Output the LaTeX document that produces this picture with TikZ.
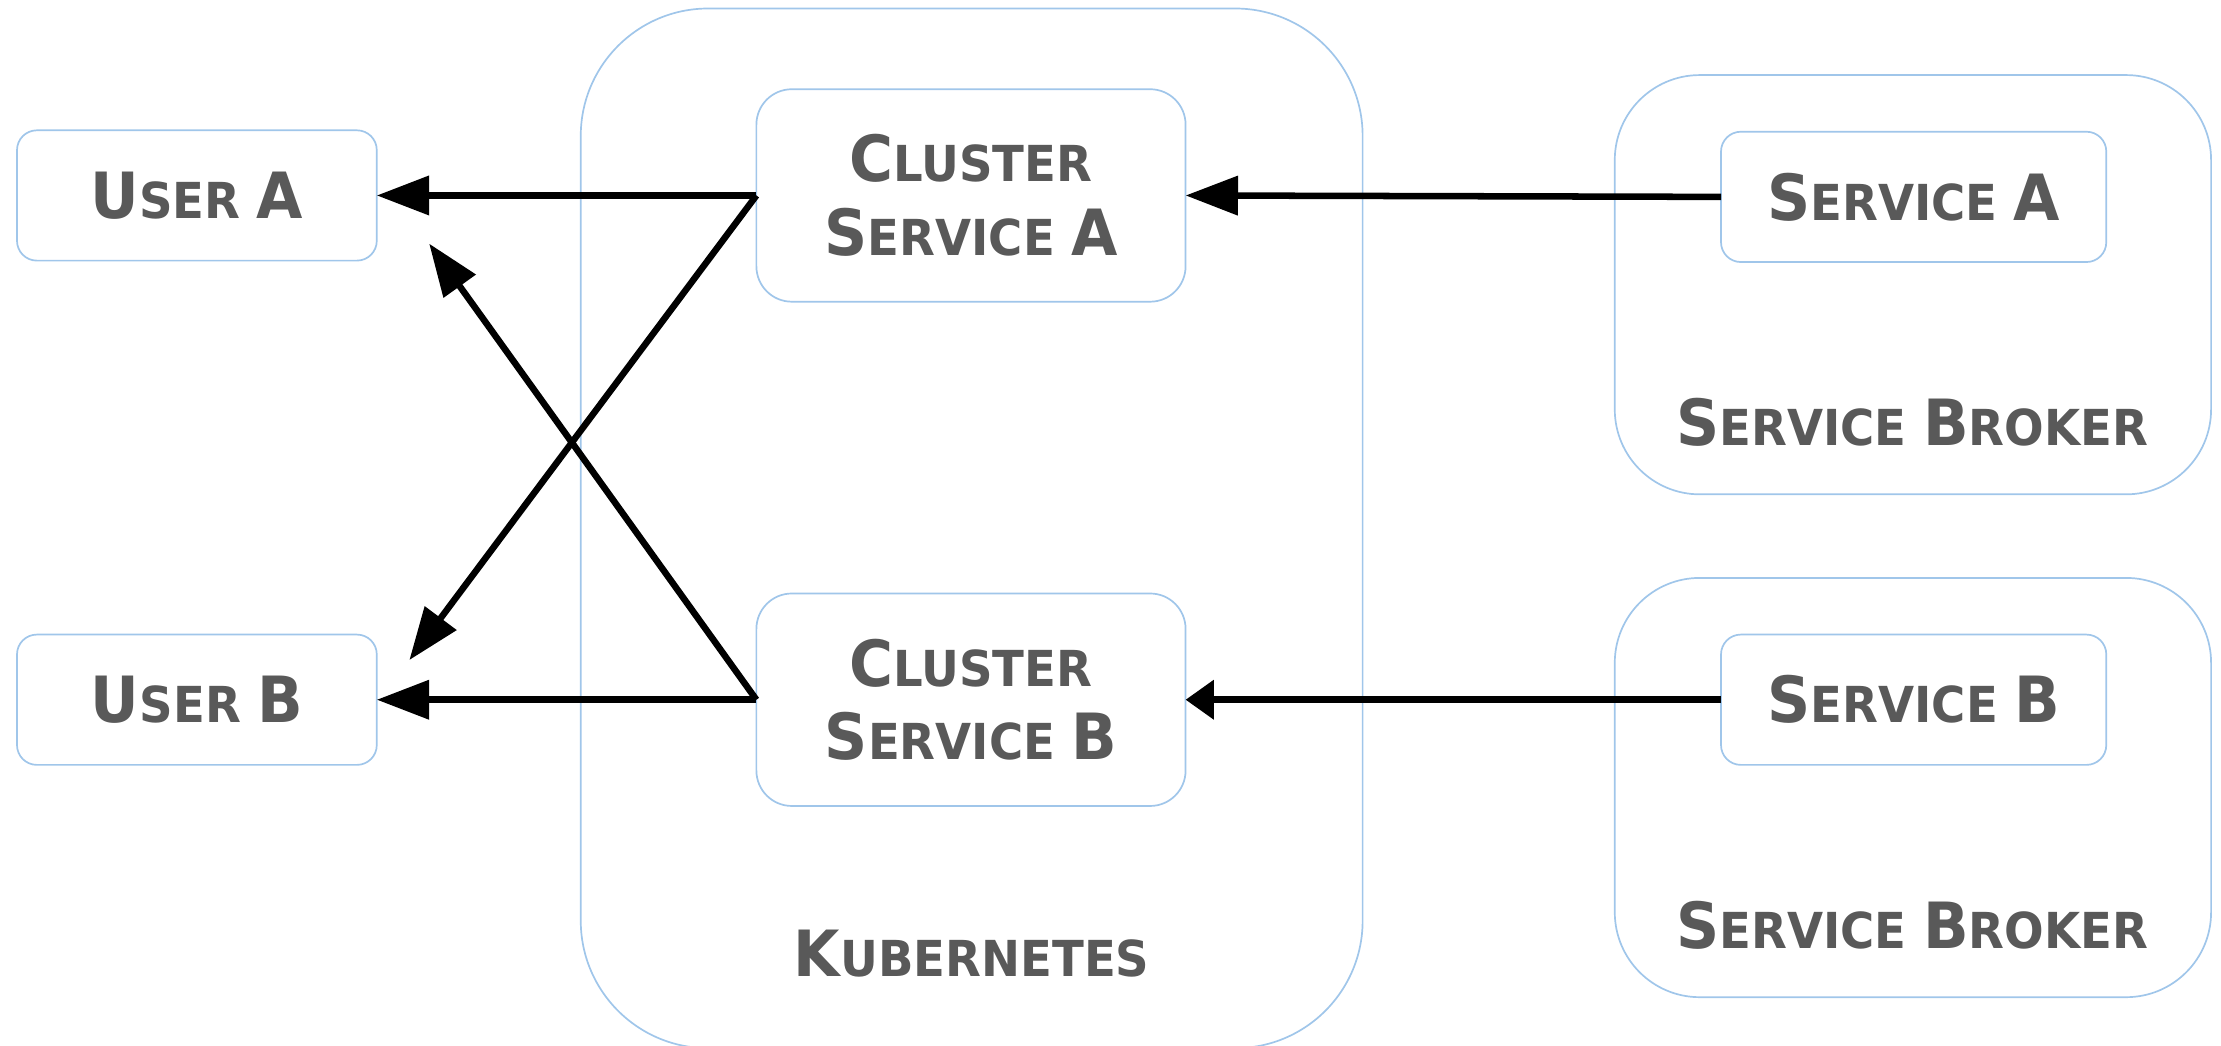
\documentclass[tikz,border=0pt]{standalone}
\usepackage{fontspec}
\setmainfont{DejaVu Sans}[FakeStretch=0.94]
\usetikzlibrary{arrows.meta,calc}
\definecolor{boxline}{RGB}{160,198,234}
\definecolor{txt}{RGB}{89,89,89}
\newcommand\BigL[1]{{\fontsize{45}{52}\selectfont #1}}
\tikzset{
  box/.style={draw=boxline, line width=1.2pt, fill=white, rectangle, inner sep=0pt, outer sep=0pt},
  lbl/.style={text=txt, font=\fontsize{35}{52}\selectfont\bfseries, align=center, inner sep=0pt},
  arr/.style={line width=4.6pt, -{Triangle[length=37pt,width=27pt]}},
  arrshort/.style={line width=4.6pt, -{Triangle[length=20pt,width=27pt]}}
}
\begin{document}
\begin{tikzpicture}[x=1pt,y=-1pt]
\useasboundingbox (0,0) rectangle (1568,738);
\clip (0,0) rectangle (1568,738);
% containers
\node[box, rounded corners=90pt, minimum width=552pt, minimum height=734pt] (k) at (686,373) {};
\node[box, rounded corners=60pt, minimum width=421pt, minimum height=296pt] (sba) at (1350.5,201) {};
\node[box, rounded corners=60pt, minimum width=421pt, minimum height=296pt] (sbb) at (1350.5,556) {};
% inner boxes
\node[box, rounded corners=25pt, minimum width=303pt, minimum height=150pt] (ca) at (685.5,138) {};
\node[box, rounded corners=25pt, minimum width=303pt, minimum height=150pt] (cb) at (685.5,494) {};
\node[box, rounded corners=14pt, minimum width=254pt, minimum height=92pt] (ua) at (139,138) {};
\node[box, rounded corners=14pt, minimum width=254pt, minimum height=92pt] (ub) at (139,494) {};
\node[box, rounded corners=14pt, minimum width=272pt, minimum height=92pt] (sa) at (1351,139) {};
\node[box, rounded corners=14pt, minimum width=272pt, minimum height=92pt] (sb) at (1351,494) {};
% labels
\node[lbl] (tca) at (ca.center) {\BigL{C}LUSTER\\\BigL{S}ERVICE \BigL{A}};
\node[lbl] (tcb) at (cb.center) {\BigL{C}LUSTER\\\BigL{S}ERVICE \BigL{B}};
\node[lbl] (tua) at (ua.center) {\BigL{U}SER \BigL{A}};
\node[lbl] (tub) at (ub.center) {\BigL{U}SER \BigL{B}};
\node[lbl] (tsa) at (sa.center) {\BigL{S}ERVICE \BigL{A}};
\node[lbl] (tsb) at (sb.center) {\BigL{S}ERVICE \BigL{B}};
\node[lbl] (tk) at (686,673) {\BigL{K}UBERNETES};
\node[lbl] (tsba) at (1350,298) {\BigL{S}ERVICE \BigL{B}ROKER};
\node[lbl] (tsbb) at (1350,653) {\BigL{S}ERVICE \BigL{B}ROKER};
% free ends
\coordinate (ubin) at ($(ub.north east)+(23,18)$);
\coordinate (uain) at ($(ua.south east)+(37,-12)$);
% connectors
\draw[arr] (ca.west) -- (ua.east);
\draw[arr] (cb.west) -- (ub.east);
\draw[arr] (ca.west) -- (ubin);
\draw[arr] (cb.west) -- (uain);
\draw[arr] (sa.west) -- (ca.east);
\draw[arrshort] (sb.west) -- (cb.east);
\end{tikzpicture}
\end{document}
